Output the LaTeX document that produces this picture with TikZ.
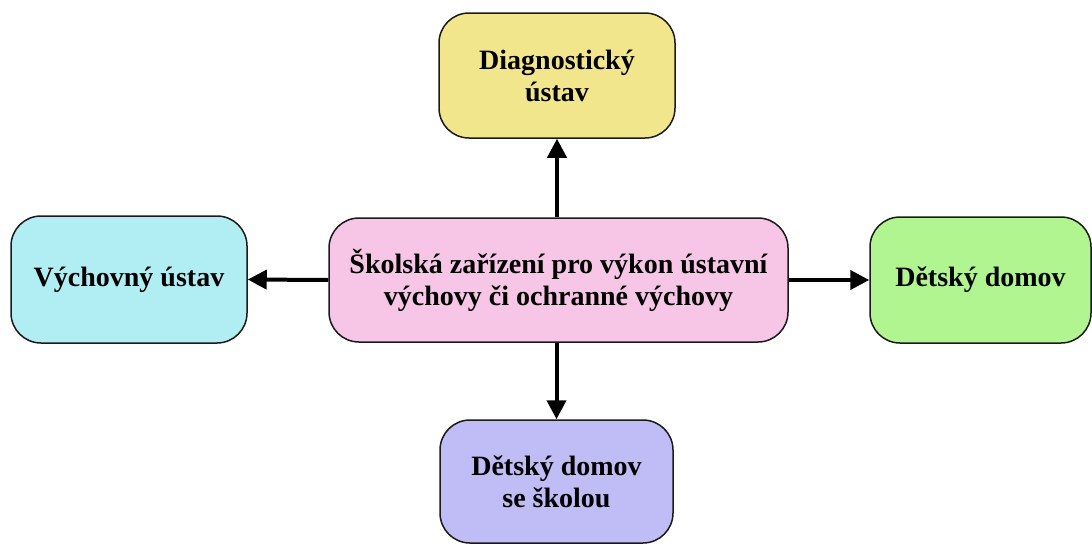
\documentclass[tikz,border=0pt]{standalone}
\usepackage{fontspec}
\setmainfont{Liberation Serif}
\usetikzlibrary{arrows.meta}
\definecolor{cyellow}{HTML}{F2E68C}
\definecolor{ccyan}{HTML}{B1EEF3}
\definecolor{cpink}{HTML}{F7C5E5}
\definecolor{cgreen}{HTML}{B0F590}
\definecolor{cpurple}{HTML}{C0BCF5}
\definecolor{cborder}{HTML}{1A1A1A}
\tikzset{
  box/.style={draw=cborder, line width=1.5pt, rounded corners=30pt, inner sep=0pt, align=center,
    font=\fontsize{28}{32}\selectfont\bfseries},
  conn/.style={line width=4pt, -{Triangle[length=19pt,width=19pt]}}
}
\begin{document}
\begin{tikzpicture}[x=1pt,y=-1pt]
\useasboundingbox (0,0) rectangle (1092,544);
\node[box, fill=cpink, minimum width=459pt, minimum height=124pt] (c) at (558.5,280) {Školská zařízení pro výkon ústavní\\výchovy či ochranné výchovy};
\node[box, fill=cyellow, minimum width=236pt, minimum height=125pt] (t) at (557,75.5) {Diagnostický\\ústav};
\node[box, fill=ccyan, minimum width=236pt, minimum height=127pt] (l) at (129,279.5) {Výchovný ústav};
\node[box, fill=cgreen, minimum width=221pt, minimum height=126pt] (r) at (980.5,280) {Dětský domov};
\node[box, fill=cpurple, minimum width=233pt, minimum height=123pt] (b) at (556.5,481.5) {Dětský domov\\se školou};
\draw[conn] (c.north -| t.south) -- (t.south);
\draw[conn] (c.south -| b.north) -- (b.north);
\draw[conn] (c.west) -- (l.east);
\draw[conn] (c.east) -- (r.west);
\end{tikzpicture}
\end{document}
